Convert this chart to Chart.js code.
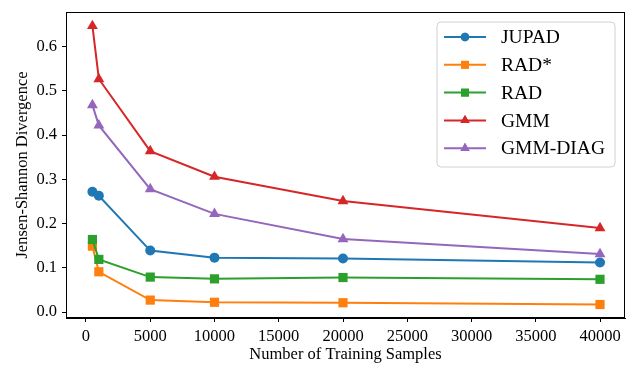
<!DOCTYPE html>
<html>
<head>
<meta charset="utf-8">
<script src="https://cdn.jsdelivr.net/npm/chart.js@4"></script>
<style>
  body { margin: 0; background: #fff; }
  #wrap { width: 640px; height: 365px; position: relative; }
</style>
</head>
<body>
<div id="wrap"><canvas id="chart"></canvas></div>
<script>
var samples = [500, 1000, 5000, 10000, 20000, 40000];
var seriesNames = ["JUPAD", "RAD*", "RAD", "GMM", "GMM-DIAG"];
var jupad = [0.272, 0.263, 0.139, 0.123, 0.121, 0.112];
var radStar = [0.149, 0.091, 0.027, 0.022, 0.021, 0.017];
var rad = [0.164, 0.119, 0.079, 0.075, 0.078, 0.074];
var gmm = [0.647, 0.527, 0.364, 0.306, 0.251, 0.190];
var gmmDiag = [0.468, 0.422, 0.278, 0.222, 0.165, 0.131];
var xTicks = [0, 5000, 10000, 15000, 20000, 25000, 30000, 35000, 40000];
var yTicks = [0.0, 0.1, 0.2, 0.3, 0.4, 0.5, 0.6];

var colors = ["#1f77b4", "#ff7f0e", "#2ca02c", "#d62728", "#9467bd"];
var shapes = ["circle", "rect", "rect", "triangle", "triangle"];
var radii = [5, 6.5, 6.5, 6.3, 6.3];
var allValues = [jupad, radStar, rad, gmm, gmmDiag];
var FONT = "'Liberation Serif', 'Times New Roman', serif";

function pts(vals) {
  return samples.map(function (x, i) { return { x: x, y: vals[i] }; });
}

var datasets = allValues.map(function (vals, i) {
  return {
    label: seriesNames[i],
    data: pts(vals),
    borderColor: colors[i],
    backgroundColor: colors[i],
    pointStyle: shapes[i],
    pointRadius: radii[i],
    pointBorderWidth: 0,
    borderWidth: 2,
    order: 5 - i
  };
});

// frame around the plot + legend in the upper right, like matplotlib
var framePlugin = {
  id: "frame",
  afterDatasetsDraw: function (chart) {
    var a = chart.chartArea, ctx = chart.ctx;
    ctx.save();
    ctx.strokeStyle = "#000";
    ctx.lineWidth = 1;
    ctx.strokeRect(a.left + 0.5, a.top + 0.5, a.right - a.left - 1, a.bottom - a.top - 1);

    // legend box
    var bx = 437, by = 22, bw = 178, bh = 145, r = 4;
    ctx.beginPath();
    ctx.moveTo(bx + r, by);
    ctx.arcTo(bx + bw, by, bx + bw, by + bh, r);
    ctx.arcTo(bx + bw, by + bh, bx, by + bh, r);
    ctx.arcTo(bx, by + bh, bx, by, r);
    ctx.arcTo(bx, by, bx + bw, by, r);
    ctx.closePath();
    ctx.fillStyle = "rgba(255,255,255,0.8)";
    ctx.fill();
    ctx.strokeStyle = "#d0d0d0";
    ctx.stroke();

    ctx.font = "19.5px " + FONT;
    ctx.textBaseline = "middle";
    seriesNames.forEach(function (name, i) {
      var y = 37 + i * 27.8;
      ctx.strokeStyle = colors[i];
      ctx.lineWidth = 2;
      ctx.beginPath();
      ctx.moveTo(444, y);
      ctx.lineTo(486, y);
      ctx.stroke();
      ctx.fillStyle = colors[i];
      Chart.helpers.drawPoint(ctx, { pointStyle: shapes[i], radius: radii[i] * 0.85, borderWidth: 0 }, 465, y);
      ctx.fill();
      ctx.fillStyle = "#000";
      ctx.fillText(name, 501, y + 1);
    });
    ctx.restore();
  }
};

new Chart(document.getElementById("chart"), {
  type: "line",
  data: { datasets: datasets },
  options: {
    responsive: true,
    maintainAspectRatio: false,
    animation: false,
    layout: { padding: { top: 12, right: 15, left: 0, bottom: 0 } },
    plugins: { legend: { display: false }, tooltip: { enabled: false } },
    scales: {
      x: {
        type: "linear",
        min: -1556,
        max: 41945,
        afterBuildTicks: function (s) { s.ticks = xTicks.map(function (v) { return { value: v }; }); },
        afterFit: function (s) { s.height = 47; s.paddingLeft = 0; s.paddingRight = 0; },
        grid: { drawOnChartArea: false, tickLength: 4, color: "#000", tickWidth: 1 },
        border: { display: true, color: "#000" },
        ticks: { color: "#000", font: { family: FONT, size: 16.5 }, padding: 5, maxRotation: 0,
                 callback: function (v) { return String(v); } },
        title: { display: true, text: "Number of Training Samples", color: "#000", font: { family: FONT, size: 16.5 }, padding: { top: 0, bottom: 0 } }
      },
      y: {
        min: -0.0135,
        max: 0.6785,
        afterBuildTicks: function (s) { s.ticks = yTicks.map(function (v) { return { value: v }; }); },
        afterFit: function (s) { s.width = 66; s.paddingTop = 0; s.paddingBottom = 0; },
        grid: { drawOnChartArea: false, tickLength: 4, color: "#000", tickWidth: 1 },
        border: { display: true, color: "#000" },
        ticks: { color: "#000", font: { family: FONT, size: 16.5 }, padding: 5, callback: function (v) { return v.toFixed(1); } },
        title: { display: true, text: "Jensen-Shannon Divergence", color: "#000", font: { family: FONT, size: 16.5 }, padding: { top: 13, bottom: 0 } }
      }
    }
  },
  plugins: [framePlugin]
});
</script>
</body>
</html>
